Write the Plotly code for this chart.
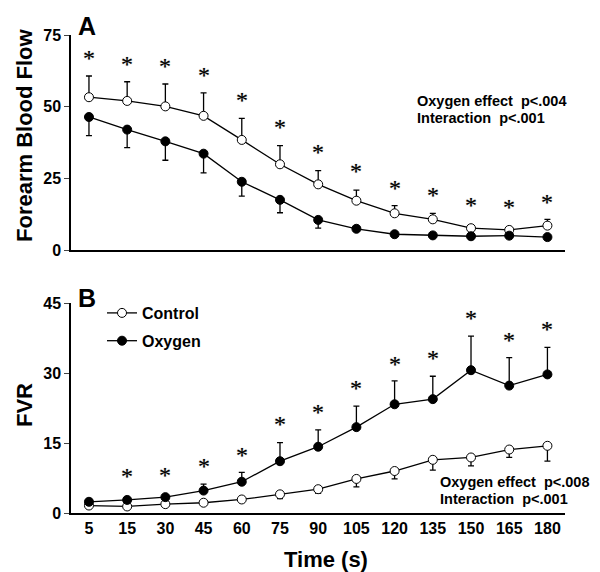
import plotly.graph_objects as go

times = ["5", "15", "30", "45", "60", "75", "90", "105", "120", "135", "150", "165", "180"]

# Panel A: Forearm blood flow
fbf_control = [53.3, 52.0, 50.1, 46.8, 38.4, 29.9, 22.9, 17.2, 12.8, 10.7, 7.6, 7.0, 8.5]
fbf_control_err = [7.4, 6.7, 7.8, 8.0, 7.5, 6.5, 4.8, 3.7, 2.7, 2.1, 0.8, 0.7, 2.2]
fbf_oxygen = [46.4, 42.0, 37.9, 33.6, 23.8, 17.5, 10.5, 7.4, 5.5, 5.1, 4.8, 5.0, 4.5]
fbf_oxygen_err = [6.5, 6.3, 6.6, 6.7, 5.0, 4.5, 2.9, 0.8, 0.5, 0.4, 0.4, 0.4, 0.4]
fbf_star = [68.8, 66.5, 66.0, 62.8, 54.1, 44.7, 36.0, 29.3, 23.5, 21.0, 17.4, 16.8, 18.6]

# Panel B: FVR
fvr_control = [1.6, 1.4, 1.9, 2.2, 2.9, 4.0, 5.1, 7.3, 9.0, 11.4, 11.9, 13.6, 14.4]
fvr_control_err = [0.4, 0.4, 0.4, 0.5, 0.6, 0.9, 0.9, 1.7, 1.7, 2.2, 1.8, 1.7, 3.3]
fvr_oxygen = [2.4, 2.8, 3.4, 4.8, 6.7, 11.1, 14.2, 18.4, 23.3, 24.4, 30.6, 27.3, 29.7]
fvr_oxygen_err = [0.3, 0.3, 0.4, 1.4, 2.0, 4.0, 3.6, 4.5, 5.0, 4.9, 7.3, 6.0, 5.8]
fvr_star_times = ["15", "30", "45", "60", "75", "90", "105", "120", "135", "150", "165", "180"]
fvr_star = [8.9, 9.2, 11.1, 13.6, 20.1, 22.8, 27.8, 33.1, 34.2, 42.9, 38.1, 40.4]

FONT = "Liberation Sans"
fig = go.Figure()

def series(x, y, err, up, filled, name, xa, ya, show):
    fig.add_trace(go.Scatter(
        x=x, y=y, xaxis=xa, yaxis=ya, mode="lines+markers", name=name,
        showlegend=show, legendgroup=name, cliponaxis=False,
        line=dict(color="black", width=1.3),
        marker=dict(size=9, symbol="circle",
                    color="black" if filled else "white",
                    line=dict(color="black", width=1)),
        error_y=dict(type="data", array=err if up else [0]*len(err),
                     arrayminus=[0]*len(err) if up else err,
                     symmetric=False, color="black", thickness=1.3, width=3),
    ))

series(times, fbf_control, fbf_control_err, True, False, "Control", "x", "y", False)
series(times, fbf_oxygen, fbf_oxygen_err, False, True, "Oxygen", "x", "y", False)
series(times, fvr_control, fvr_control_err, False, False, "Control", "x2", "y2", True)
series(times, fvr_oxygen, fvr_oxygen_err, True, True, "Oxygen", "x2", "y2", True)

star_font = dict(family="Liberation Serif", size=24, color="black",
                 shadow="0px 0px 1px rgba(0,0,0,0.5)")
annotations = []
for t, v in zip(times, fbf_star):
    annotations.append(dict(x=times.index(t), y=v, xref="x", yref="y", text="*", showarrow=False,
                            xanchor="center", yanchor="middle", yshift=-5, font=star_font))
for t, v in zip(fvr_star_times, fvr_star):
    annotations.append(dict(x=times.index(t), y=v, xref="x2", yref="y2", text="*", showarrow=False,
                            xanchor="center", yanchor="middle", yshift=-5, font=star_font))

bold = dict(family=FONT, color="black", weight="bold")

def ptext(x, y, text, size, **kw):
    d = dict(x=x/600, y=1-y/572, xref="paper", yref="paper", text=text, showarrow=False,
             xanchor="center", yanchor="middle", font=dict(size=size, **bold))
    d.update(kw)
    annotations.append(d)

ptext(76, 26, "A", 25, xanchor="left")
ptext(76, 298, "B", 25, xanchor="left")
ptext(24, 135, "Forearm Blood Flow", 22, textangle=-90)
ptext(24, 405, "FVR", 22, textangle=-90)
ptext(326, 559, "Time (s)", 22)
ptext(415, 101, "Oxygen effect  p<.004", 14.5, xanchor="left")
ptext(415, 118, "Interaction  p<.001", 14.5, xanchor="left")
ptext(438, 482, "Oxygen effect  p<.008", 14.5, xanchor="left")
ptext(438, 499, "Interaction  p<.001", 14.5, xanchor="left")

xr = [-0.47, 12.46]
xdom = [71/600, 565/600]
axis_common = dict(showgrid=False, zeroline=False, showline=True, linecolor="black",
                   linewidth=1.5, automargin=False)
fig.update_layout(
    width=600, height=572, margin=dict(l=0, r=0, t=0, b=0, autoexpand=False),
    paper_bgcolor="white", plot_bgcolor="white",
    font=dict(family=FONT, color="black"),
    xaxis=dict(domain=xdom, range=xr, anchor="y", showticklabels=False, ticks="", **axis_common),
    yaxis=dict(domain=[1-250/572, 1-35/572], range=[0, 75], anchor="x",
               tickvals=[0, 25, 50, 75], ticks="outside", ticklen=5, tickwidth=1.2,
               tickfont=dict(size=16, **bold), **axis_common),
    xaxis2=dict(domain=xdom, range=xr, anchor="y2", ticks="",
                tickfont=dict(size=16, **bold), **axis_common),
    yaxis2=dict(domain=[1-513/572, 1-303/572], range=[0, 45], anchor="x2",
                tickvals=[0, 15, 30, 45], ticks="outside", ticklen=5, tickwidth=1.2,
                tickfont=dict(size=16, **bold), **axis_common),
    legend=dict(x=102/600, y=1-296/572, xanchor="left", yanchor="top",
                bgcolor="rgba(0,0,0,0)", font=dict(size=16, **bold),
                tracegroupgap=4, itemwidth=30),
    annotations=annotations,
)

fig.write_html("out.html")
